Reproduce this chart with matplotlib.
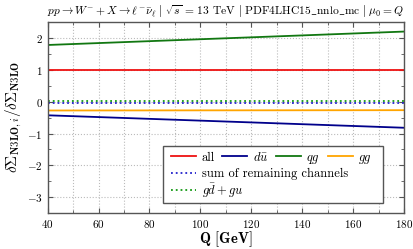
import numpy as np
import matplotlib
matplotlib.use("Agg")
import matplotlib.pyplot as plt
from matplotlib.ticker import MultipleLocator
from matplotlib.patches import Rectangle

# values (Q in GeV)
Q = [40, 180]
all_ch = [1.0, 1.0]
dubar = [-0.43, -0.82]
qg = [1.77, 2.19]
gg = [-0.28, -0.27]
sum_rest = [-0.04, -0.04]
gd_gu = [0.03, 0.03]

plt.rcParams['font.family'] = 'serif'
plt.rcParams['font.serif'] = ['cmr10']
plt.rcParams['mathtext.fontset'] = 'cm'
plt.rcParams['axes.unicode_minus'] = False
plt.rcParams['axes.formatter.use_mathtext'] = True


def main():
    fig = plt.figure(figsize=(4.14, 2.49), dpi=100)
    ax = fig.add_axes([0.115, 0.143, 0.861, 0.770])

    l_all, = ax.plot(Q, all_ch, color='#ee1111', lw=1.3, label='all')
    l_du, = ax.plot(Q, dubar, color='#00008b', lw=1.3, label=r'$d\bar{u}$')
    l_qg, = ax.plot(Q, qg, color='#117711', lw=1.3, label=r'$qg$')
    l_gg, = ax.plot(Q, gg, color='#ffa500', lw=1.3, label=r'$gg$')
    l_sum, = ax.plot(Q, sum_rest, color='#2222cc', lw=1.3, ls=':', label='sum of remaining channels')
    l_gd, = ax.plot(Q, gd_gu, color='#119911', lw=1.3, ls=':', label=r'$g\bar{d} + gu$')

    ax.set_xlim(40, 180)
    ax.set_ylim(-3.5, 2.5)
    ax.xaxis.set_major_locator(MultipleLocator(20))
    ax.xaxis.set_minor_locator(MultipleLocator(10))
    ax.yaxis.set_major_locator(MultipleLocator(1))
    ax.yaxis.set_minor_locator(MultipleLocator(0.5))
    ax.tick_params(which='both', direction='in', top=True, right=True, labelsize=8, color='#555555')
    ax.tick_params(which='major', length=3.5)
    ax.tick_params(which='minor', length=2)
    ax.tick_params(axis='x', pad=3)
    ax.grid(True, which='major', color='#bbbbbb', ls=':', lw=0.8)
    ax.grid(True, which='minor', axis='x', color='#bbbbbb', ls=':', lw=0.8)
    ax.set_axisbelow(True)
    for s in ax.spines.values():
        s.set_color('#555555')
        s.set_linewidth(1.0)

    ax.set_xlabel(r'$\mathbf{Q}$ $\mathbf{[GeV]}$', fontsize=10.5, labelpad=0)
    ax.set_ylabel(r'$\delta\Sigma_{\mathbf{N3LO},i}/\delta\Sigma_{\mathbf{N3LO}}$', fontsize=11, labelpad=2)
    ax.set_title(r'$pp \rightarrow W^{-} + X \rightarrow \ell^{-}\bar{\nu}_{\ell}\ |\ \sqrt{s}$ = 13 TeV $|\ \mathrm{PDF4LHC15\_nnlo\_mc}\ |\ \mu_0 = Q$',
                 fontsize=8.3, pad=5)

    # legend box drawn by hand, two legends inside
    box = Rectangle((0.324, 0.054), 0.617, 0.297, transform=ax.transAxes,
                    facecolor='white', edgecolor='#555555', lw=1.0, zorder=4)
    ax.add_patch(box)
    leg1 = ax.legend(handles=[l_all, l_du, l_qg, l_gg], ncol=4, frameon=False,
                     loc='center left', bbox_to_anchor=(0.346, 0.287), fontsize=9,
                     handlelength=2.0, handletextpad=0.45, columnspacing=0.6,
                     borderpad=0, borderaxespad=0)
    leg1.set_zorder(5)
    ax.add_artist(leg1)
    leg2 = ax.legend(handles=[l_sum, l_gd], ncol=1, frameon=False,
                     loc='center left', bbox_to_anchor=(0.346, 0.155), fontsize=9,
                     handlelength=2.0, handletextpad=0.45,
                     borderpad=0, borderaxespad=0, labelspacing=0.1)
    leg2.set_zorder(5)

    fig.savefig('out.png', dpi=100)


if __name__ == '__main__':
    main()
